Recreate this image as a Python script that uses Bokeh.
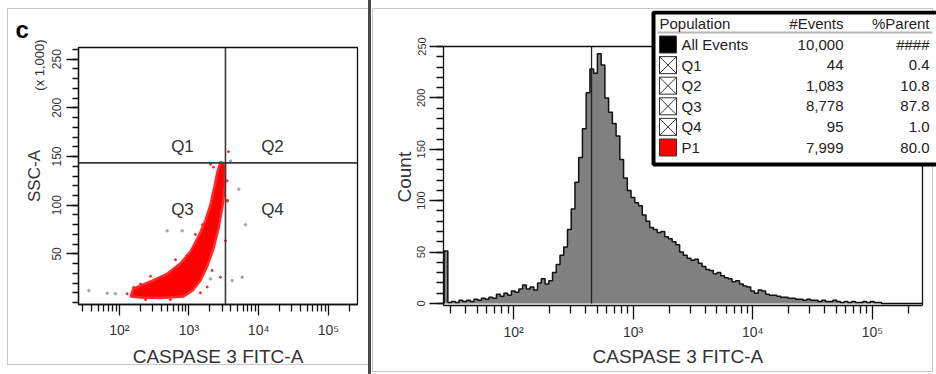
import math
from bokeh.plotting import figure
from bokeh.models import (FixedTicker, CustomJSTickFormatter, Label, BoxAnnotation,
                          PolyAnnotation, Div, Span, Title, LinearAxis)
from bokeh.layouts import row
from bokeh.embed import file_html
from bokeh.resources import INLINE
from bokeh.core.properties import value

FONT = "Liberation Sans"
TXT = "#333333"

# ---------------- data ----------------
x_min, x_max = 26, 262143          # CASPASE 3 FITC-A (log)
ssc_min, ssc_max = -2, 262         # SSC-A (x 1,000)
count_min, count_max = -2, 250     # Count

x_major = [100, 1000, 10000, 100000]
x_minor = [30, 40, 50, 60, 70, 80, 90,
           200, 300, 400, 500, 600, 700, 800, 900,
           2000, 3000, 4000, 5000, 6000, 7000, 8000, 9000,
           20000, 30000, 40000, 50000, 60000, 70000, 80000, 90000, 200000]
ssc_major = [50, 100, 150, 200, 250]
count_major = [0, 50, 100, 150, 200, 250]
ssc_unit_text = "(x 1,000)"
ssc_unit_at = 244

quad_x_gate = 3340
quad_y_gate = 143.5
quad_names = ["Q1", "Q2", "Q3", "Q4"]
quad_label_x = [807, 15800, 807, 15800]
quad_label_y = [160, 160, 95.6, 95.6]

# outline of the dense P1 (red) cloud
cloud_x = [145, 160, 281, 492, 755, 1052, 1370, 1727, 2037, 2324, 2567, 2834,
           3286, 3286, 3027, 2654, 2251, 1845, 1463, 1124, 836, 390, 202]
cloud_y = [6.2, 14.4, 21.6, 29.8, 40.1, 52.4, 67.9, 84.3, 100.7, 119.2, 134.6, 143.9,
           142.8, 120.2, 98.7, 76.1, 55.5, 38.1, 22.7, 12.4, 6.2, 4.7, 5.2]
# loose red events around the cloud
speck_x = [130, 161, 2040, 2830, 3530, 2150, 2830, 1830, 641, 281, 202,
           1240, 2250, 3690, 3570, 3340, 1460, 543, 238, 930, 1560]
speck_y = [9, 15.8, 142, 144, 125, 33, 26, 16, 44, 27, 19,
           70, 139, 155, 105, 63.5, 10, 3, 3, 48, 80]
# grey events outside P1
other_x = [36.6, 67, 88, 487, 800, 5190, 6470, 4170, 5800, 2040, 3945, 3550]
other_y = [12.3, 9.6, 9, 73.7, 73.7, 116.4, 79.9, 22.6, 26, 24.3, 145.4, 104]

# histogram (log bins)
hist_log_start = 1.42
hist_bin_width = 1 / 32
hist_counts = [
    51, 1, 2, 1, 3, 2, 3, 2, 4, 3,
    5, 4, 6, 5, 9, 7, 10, 8, 12, 11,
    14, 18, 14, 16, 13, 20, 24, 19, 22, 30,
    38, 47, 55, 72, 92, 118, 142, 170, 205, 228,
    224, 243, 232, 200, 186, 175, 163, 140, 122, 110,
    103, 98, 95, 86, 80, 74, 72, 69, 70, 65,
    63, 60, 57, 50, 47, 44, 42, 43, 39, 36,
    33, 32, 29, 30, 27, 25, 24, 21, 22, 19,
    17, 16, 12, 10, 13, 12, 9, 8, 8, 7,
    6, 6, 5, 5, 4, 4, 3, 4, 3, 3,
    2, 3, 2, 2, 3, 2, 1, 2, 1, 2,
    1, 1, 2, 1, 2, 1, 1, 0, 0, 0,
    0, 0, 0, 0, 0, 0, 0, 0]
marker_x = 449

# statistics table
pop_header = ["Population", "#Events", "%Parent"]
pop_names = ["All Events", "Q1", "Q2", "Q3", "Q4", "P1"]
pop_events = ["10,000", "44", "1,083", "8,778", "95", "7,999"]
pop_parent = ["####", "0.4", "10.8", "87.8", "1.0", "80.0"]
pop_icon = ["solid_black", "cross", "cross", "cross", "cross", "solid_red"]

# ---------------- helpers ----------------
log_fmt = CustomJSTickFormatter(code="""
const m = {2: '10\u00b2', 3: '10\u00b3', 4: '10\u2074', 5: '10\u2075'};
const e = Math.round(Math.log10(tick));
return m[e] || '';
""")


def style_axis(ax, t_out, t_min, lab_size, lab_stand):
    ax.axis_line_color = "#111111"
    ax.axis_line_width = 1.3
    ax.major_tick_line_color = "#111111"
    ax.minor_tick_line_color = "#111111"
    ax.major_tick_line_width = 1.3
    ax.minor_tick_line_width = 1.3
    ax.major_tick_in = 0
    ax.minor_tick_in = 0
    ax.major_tick_out = t_out
    ax.minor_tick_out = t_min
    ax.major_label_text_font = FONT
    ax.major_label_text_color = TXT
    ax.major_label_text_font_size = lab_size
    ax.major_label_standoff = lab_stand
    ax.axis_label_text_font = FONT
    ax.axis_label_text_font_style = "normal"
    ax.axis_label_text_color = TXT


def panel_lines(lines):
    """CSS background lines (x, y, w, h) drawn behind a transparent canvas."""
    g = "linear-gradient(#c8c8c8, #c8c8c8)"
    return {"background-color": "white",
            "background-image": ", ".join([g] * len(lines)),
            "background-repeat": "no-repeat",
            "background-position": ", ".join("%dpx %dpx" % (x, y) for x, y, w, h in lines),
            "background-size": ", ".join("%dpx %dpx" % (w, h) for x, y, w, h in lines)}


# ---------------- left: dot plot ----------------
p1 = figure(width=368, height=374, x_axis_type="log", frame_align=False,
            x_range=(x_min, x_max), y_range=(ssc_min, ssc_max),
            min_border_left=78, min_border_right=11, min_border_top=47, min_border_bottom=70,
            toolbar_location=None, output_backend="svg",
            x_axis_label="CASPASE 3 FITC-A", y_axis_label="SSC-A")
p1.border_fill_color = None
p1.background_fill_color = None
p1.xgrid.grid_line_color = None
p1.ygrid.grid_line_color = None
p1.outline_line_color = "#111111"
p1.outline_line_width = 1.3
p1.xaxis.ticker = FixedTicker(ticks=x_major, minor_ticks=x_minor)
p1.xaxis.formatter = log_fmt
style_axis(p1.xaxis[0], 11, 7, "14px", 6)
p1.xaxis.axis_label_standoff = 5
p1.xaxis.axis_label_text_font_size = "19px"
p1.yaxis.ticker = FixedTicker(ticks=ssc_major, minor_ticks=list(range(0, 261, 10)))
style_axis(p1.yaxis[0], 12, 6, "12px", 5)
p1.yaxis.major_label_orientation = "vertical"
p1.yaxis.axis_label_standoff = 6
p1.yaxis.axis_label_text_font_size = "17px"

unit_axis = LinearAxis(ticker=FixedTicker(ticks=[ssc_unit_at], minor_ticks=[]),
                       formatter=CustomJSTickFormatter(code="return '%s';" % ssc_unit_text),
                       axis_line_color=None, major_tick_line_color=None,
                       minor_tick_line_color=None, major_tick_out=0, minor_tick_out=0,
                       major_tick_in=0, minor_tick_in=0,
                       major_label_orientation="vertical", major_label_standoff=-26,
                       major_label_text_font=FONT, major_label_text_font_size="13px",
                       major_label_text_color=TXT)
p1.add_layout(unit_axis, "left")

p1.title.text = "c"
p1.title.align = "left"
p1.title.offset = -63
p1.title.vertical_align = "bottom"
p1.title.standoff = 10
p1.title.text_font = FONT
p1.title.text_font_size = "24px"
p1.title.text_font_style = "bold"
p1.title.text_color = "#000000"

p1.scatter(other_x, other_y, size=2.5, color="#8a9aae", alpha=0.8)
p1.patch(cloud_x, cloud_y, fill_color="#ff0000", line_color="#ff2a2a", line_width=2.5)
p1.scatter(speck_x, speck_y, size=2, color="#ff2020")
p1.add_layout(Span(location=quad_x_gate, dimension="height", line_color="#3a3a3a", line_width=1.6))
p1.add_layout(Span(location=quad_y_gate, dimension="width", line_color="#3a3a3a", line_width=1.6))
p1.text(quad_label_x, quad_label_y, text=quad_names, text_font=value(FONT),
        text_font_size="17px", text_color=TXT, text_align="center", text_baseline="middle")

# ---------------- right: histogram ----------------
# frame enlarged up/right so the statistics table can sit over the plot box
HIST_W, HIST_H = 479, 259          # pixel size of the drawn plot box
EXTRA_R, EXTRA_T = 14, 36          # extra frame pixels right / above the box
px_per_dec = HIST_W / math.log10(x_max / x_min)
x_view_max = 10 ** (math.log10(x_max) + EXTRA_R / px_per_dec)
count_view_max = count_max + EXTRA_T * (count_max - count_min) / HIST_H

p2 = figure(width=565, height=374, x_axis_type="log", title=None, frame_align=False,
            x_range=(x_min, x_view_max), y_range=(count_min, count_view_max),
            min_border_left=72, min_border_right=0, min_border_top=10, min_border_bottom=69,
            toolbar_location=None, output_backend="svg")
p2.border_fill_color = None
p2.background_fill_color = None
p2.xgrid.grid_line_color = None
p2.ygrid.grid_line_color = None
p2.outline_line_color = None
p2.xaxis.ticker = FixedTicker(ticks=x_major, minor_ticks=x_minor)
p2.xaxis.formatter = log_fmt
p2.xaxis.bounds = (x_min, x_max)
style_axis(p2.xaxis[0], 14, 8, "14px", 4)
p2.yaxis.ticker = FixedTicker(ticks=count_major, minor_ticks=list(range(0, 251, 10)))
p2.yaxis.bounds = (count_min, count_max)
style_axis(p2.yaxis[0], 14, 7, "11px", 4)
p2.yaxis.major_label_orientation = "vertical"

p2.add_layout(Title(text="CASPASE 3 FITC-A", align="left", offset=149, vertical_align="top",
                    standoff=6, text_font=FONT, text_font_size="19px",
                    text_font_style="normal", text_color=TXT), "below")
p2.add_layout(Title(text="Count", align="left", offset=103, vertical_align="bottom",
                    standoff=0, text_font=FONT, text_font_size="19px",
                    text_font_style="normal", text_color=TXT), "left")

edges = [10 ** (hist_log_start + i * hist_bin_width) for i in range(len(hist_counts) + 1)]
step_x, step_y = [edges[0]], [0]
for i, c in enumerate(hist_counts):
    step_x += [edges[i], edges[i + 1]]
    step_y += [c, c]
step_x.append(edges[-1])
step_y.append(0)
p2.patch(step_x, step_y, fill_color="#808080", line_color=None)
p2.line(step_x, step_y, line_color="#111111", line_width=1.5)
p2.segment(x0=[marker_x], y0=[0], x1=[marker_x], y1=[count_max],
           line_color="#222222", line_width=1.3)
# top and right sides of the plot box
p2.segment(x0=[x_min, x_max], y0=[count_max, count_min], x1=[x_max, x_max],
           y1=[count_max, count_max], line_color="#111111", line_width=1.3)

# statistics table (screen units relative to the frame: left=443, bottom=305 page px)
FL, FB = 443, 305


def sx(px):
    return px - FL


def sy(py):
    return FB - py


def box(l, r, t, b, **kw):
    return BoxAnnotation(left=sx(l), right=sx(r), top=sy(t), bottom=sy(b),
                         left_units="screen", right_units="screen",
                         top_units="screen", bottom_units="screen",
                         level="annotation", **kw)


p2.add_layout(box(653, 960, 12, 164, fill_color="white", fill_alpha=1,
                  line_color="black", line_alpha=1, line_width=4))
p2.add_layout(box(657, 932, 31, 33, fill_color="#b8b8b8", fill_alpha=1, line_color=None))

hdr_y = 23
for t, cx, al in zip(pop_header, [659, 843, 929], ["left", "right", "right"]):
    p2.add_layout(Label(x=sx(cx), y=sy(hdr_y), x_units="screen", y_units="screen", text=t,
                        text_font=FONT, text_font_size="15px", text_color="#222222",
                        text_align=al, text_baseline="middle"))

row_y0, row_dy = 44, 20.6
for i, (nm, ev, pa, ic) in enumerate(zip(pop_names, pop_events, pop_parent, pop_icon)):
    cy = row_y0 + i * row_dy
    for t, cx, al in zip([nm, ev, pa], [681, 843, 929], ["left", "right", "right"]):
        p2.add_layout(Label(x=sx(cx), y=sy(cy), x_units="screen", y_units="screen", text=t,
                            text_font=FONT, text_font_size="15px", text_color="#222222",
                            text_align=al, text_baseline="middle"))
    l, r, t_, b = 659, 676, cy - 8.5, cy + 8.5
    fill = {"solid_black": "#000000", "solid_red": "#ff0000", "cross": "#ffffff"}[ic]
    p2.add_layout(box(l, r, t_, b, fill_color=fill, fill_alpha=1, line_color="#333333",
                      line_alpha=1, line_width=1))
    if ic == "cross":
        p2.add_layout(PolyAnnotation(xs=[sx(l), sx(r), sx(r), sx(l)],
                                     ys=[sy(b), sy(t_), sy(b), sy(t_)],
                                     xs_units="screen", ys_units="screen",
                                     fill_alpha=0, line_color="#333333", line_alpha=1,
                                     line_width=1, level="annotation"))

# faint panel borders of the original screenshot
p1.styles = panel_lines([(7, 8, 361, 1), (7, 8, 1, 356), (7, 364, 361, 1)])
p2.styles = panel_lines([(1, 8, 560, 1), (1, 8, 1, 364), (1, 371, 560, 1), (561, 8, 1, 364)])

divider = Div(text="", width=3, height=374, margin=0,
              styles={"background-color": "#4a4a4a"})

layout = row(p1, divider, p2)
open("out.html", "w").write(file_html(layout, INLINE))
